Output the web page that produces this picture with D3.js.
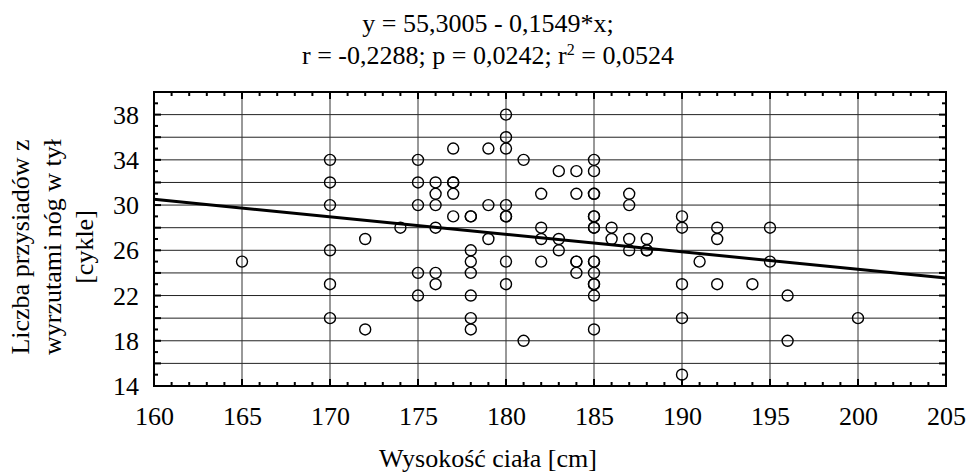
<!DOCTYPE html>
<html>
<head>
<meta charset="utf-8">
<script src="https://cdn.jsdelivr.net/npm/d3@7"></script>
<style>
  body { margin: 0; background: #fff; }
  text { font-family: "Liberation Serif", "Times New Roman", serif; fill: #000; }
</style>
</head>
<body>
<script>
"use strict";

// height [cm] and squat count
const heights = [
  165,
  170, 170, 170, 170, 170, 170,
  172, 172, 174,
  175, 175, 175, 175, 175,
  176, 176, 176, 176, 176, 176,
  177, 177, 177, 177, 177,
  178, 178, 178, 178, 178, 178, 178, 178,
  179, 179, 179,
  180, 180, 180, 180, 180, 180, 180, 180,
  181, 181,
  182, 182, 182, 182,
  183, 183, 183,
  184, 184, 184, 184, 184,
  185, 185, 185, 185, 185, 185, 185, 185, 185, 185, 185, 185, 185, 185, 185,
  186, 186,
  187, 187, 187, 187,
  188, 188, 188,
  190, 190, 190, 190, 190,
  191,
  192, 192, 192,
  194,
  195, 195,
  196, 196,
  200
];
const cycles = [
  25,
  34, 32, 30, 26, 23, 20,
  27, 19, 28,
  34, 32, 30, 24, 22,
  32, 31, 30, 28, 24, 23,
  35, 32, 32, 31, 29,
  29, 29, 26, 25, 24, 22, 20, 19,
  35, 30, 27,
  38, 36, 35, 30, 29, 29, 25, 23,
  34, 18,
  31, 28, 27, 25,
  33, 27, 26,
  33, 31, 25, 25, 24,
  34, 33, 31, 31, 29, 29, 28, 28, 25, 25, 24, 23, 23, 22, 19,
  28, 27,
  31, 30, 27, 26,
  27, 26, 26,
  29, 28, 23, 20, 15,
  25,
  28, 27, 23,
  23,
  28, 25,
  22, 18,
  20
];

const fitCoef = [55.3005, -0.1549];   // intercept, slope
const xTicks = [160, 165, 170, 175, 180, 185, 190, 195, 200, 205];
const yTicks = [14, 18, 22, 26, 30, 34, 38];
const yTitle = ["Liczba przysiadów z", "wyrzutami nóg w tył", "[cykle]"];

const width = 969, height = 475;
const margin = {top: 92, right: 23, bottom: 89, left: 154};
const fontSize = 26;

const svg = d3.select("body").append("svg")
    .attr("width", width)
    .attr("height", height);

const x = d3.scaleLinear().domain([160, 205]).range([margin.left, width - margin.right]);
const y = d3.scaleLinear().domain([14, 40]).range([height - margin.bottom, margin.top]);

const x0 = x.range()[0], x1 = x.range()[1];
const y0 = y.range()[0], y1 = y.range()[1];

// grid
const grid = svg.append("g").attr("class", "grid");
grid.selectAll("line.h")
    .data(d3.range(16, 40, 2))
    .enter().append("line")
    .attr("x1", x0).attr("x2", x1)
    .attr("y1", d => y(d)).attr("y2", d => y(d))
    .attr("stroke", "#222")
    .attr("stroke-width", 1);
grid.selectAll("line.v")
    .data(d3.range(165, 205, 5))
    .enter().append("line")
    .attr("y1", y0).attr("y2", y1)
    .attr("x1", d => x(d)).attr("x2", d => x(d))
    .attr("stroke", "#333")
    .attr("stroke-width", 1);

// inner ticks on all four sides
const tickG = svg.append("g");
const xMinor = d3.range(161, 205, 1);
const yMinor = d3.range(15, 40, 1);
tickG.selectAll("line.bt")
    .data(xMinor)
    .enter().append("line")
    .attr("x1", d => x(d)).attr("x2", d => x(d))
    .attr("y1", y0).attr("y2", d => y0 - (d % 5 === 0 ? 7 : 4))
    .attr("stroke", "#000").attr("stroke-width", 2);
tickG.selectAll("line.tt")
    .data(xMinor)
    .enter().append("line")
    .attr("x1", d => x(d)).attr("x2", d => x(d))
    .attr("y1", y1).attr("y2", d => y1 + (d % 5 === 0 ? 7 : 4))
    .attr("stroke", "#000").attr("stroke-width", 2);
tickG.selectAll("line.lt")
    .data(yMinor)
    .enter().append("line")
    .attr("y1", d => y(d)).attr("y2", d => y(d))
    .attr("x1", x0).attr("x2", d => x0 + (d % 2 === 0 ? 7 : 4))
    .attr("stroke", "#000").attr("stroke-width", 2);
tickG.selectAll("line.rt")
    .data(yMinor)
    .enter().append("line")
    .attr("y1", d => y(d)).attr("y2", d => y(d))
    .attr("x1", x1).attr("x2", d => x1 - (d % 2 === 0 ? 7 : 4))
    .attr("stroke", "#000").attr("stroke-width", 2);

// frame
svg.append("rect")
    .attr("x", x0).attr("y", y1)
    .attr("width", x1 - x0).attr("height", y0 - y1)
    .attr("fill", "none")
    .attr("stroke", "#000")
    .attr("stroke-width", 2);

// tick labels through d3 axes, axis lines hidden
const xAxis = svg.append("g")
    .attr("transform", "translate(0," + y0 + ")")
    .call(d3.axisBottom(x).tickValues(xTicks).tickSize(0).tickPadding(0));
const yAxis = svg.append("g")
    .attr("transform", "translate(" + x0 + ",0)")
    .call(d3.axisLeft(y).tickValues(yTicks).tickSize(0).tickPadding(15));
[xAxis, yAxis].forEach(function(a) {
    a.select(".domain").remove();
    a.selectAll("text")
        .attr("font-family", "Liberation Serif, Times New Roman, serif")
        .attr("font-size", fontSize)
        .attr("fill", "#000");
});
xAxis.selectAll("text").attr("y", 39).attr("dy", 0);
yAxis.selectAll("text").attr("dy", "0.33em");

// regression line
const fitLine = d3.line()
    .x(d => x(d))
    .y(d => y(fitCoef[0] + fitCoef[1] * d));
svg.append("path")
    .datum(x.domain())
    .attr("d", fitLine)
    .attr("stroke", "#000")
    .attr("stroke-width", 3)
    .attr("fill", "none");

// points
svg.append("g").selectAll("circle")
    .data(d3.zip(heights, cycles))
    .enter().append("circle")
    .attr("cx", d => x(d[0]))
    .attr("cy", d => y(d[1]))
    .attr("r", 5.5)
    .attr("fill", "none")
    .attr("stroke", "#000")
    .attr("stroke-width", 1.4);

// title
const titleX = 488;
const title = svg.append("text")
    .attr("text-anchor", "middle")
    .attr("font-size", fontSize);
title.append("tspan")
    .attr("x", titleX).attr("y", 32)
    .text("y = 55,3005 - 0,1549*x;");
const t2 = title.append("tspan")
    .attr("x", titleX).attr("y", 64)
    .text("r = -0,2288; p = 0,0242; r");
t2.append("tspan").attr("font-size", 16).attr("dy", -9).text("2");
t2.append("tspan").attr("dy", 9).text(" = 0,0524");

// axis titles
svg.append("text")
    .attr("x", titleX).attr("y", 467)
    .attr("text-anchor", "middle")
    .attr("font-size", fontSize)
    .text("Wysokość ciała [cm]");

svg.append("g")
    .attr("transform", "translate(0,247) rotate(-90)")
    .selectAll("text")
    .data(yTitle)
    .enter().append("text")
    .attr("x", 0)
    .attr("y", (d, i) => 29 + i * 32)
    .attr("text-anchor", "middle")
    .attr("font-size", fontSize)
    .text(d => d);
</script>
</body>
</html>
